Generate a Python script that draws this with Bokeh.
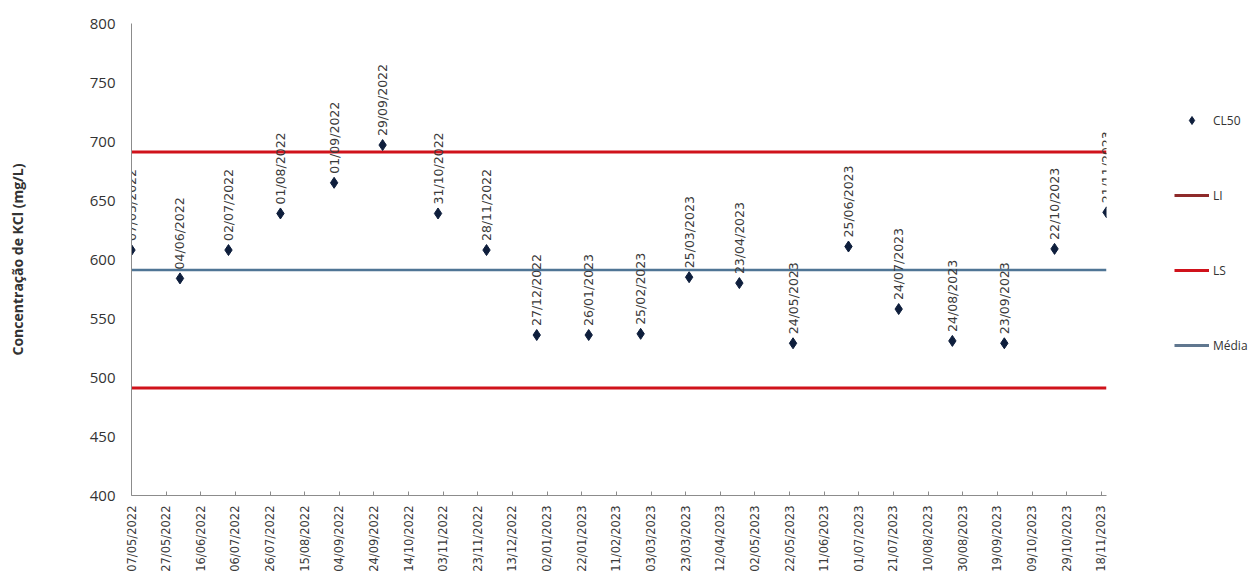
import pandas as pd
from math import pi
from bokeh.plotting import figure
from bokeh.models import (ColumnDataSource, Range1d, FixedTicker, DatetimeTickFormatter,
                          Legend, LegendItem)
from bokeh.core.properties import value
from bokeh.embed import file_html
from bokeh.resources import INLINE

# ---- data ----
sample_dates = ["07/05/2022", "04/06/2022", "02/07/2022", "01/08/2022", "01/09/2022",
                "29/09/2022", "31/10/2022", "28/11/2022", "27/12/2022", "26/01/2023",
                "25/02/2023", "25/03/2023", "23/04/2023", "24/05/2023", "25/06/2023",
                "24/07/2023", "24/08/2023", "23/09/2023", "22/10/2023", "21/11/2023"]
cl50 = [608, 584, 608, 639, 665, 697, 639, 608, 536, 536,
        537, 585, 580, 529, 611, 558, 531, 529, 609, 640]
li_value = 691
ls_value = 491
media_value = 591
tick_labels = ["07/05/2022", "27/05/2022", "16/06/2022", "06/07/2022", "26/07/2022",
               "15/08/2022", "04/09/2022", "24/09/2022", "14/10/2022", "03/11/2022",
               "23/11/2022", "13/12/2022", "02/01/2023", "22/01/2023", "11/02/2023",
               "03/03/2023", "23/03/2023", "12/04/2023", "02/05/2023", "22/05/2023",
               "11/06/2023", "01/07/2023", "21/07/2023", "10/08/2023", "30/08/2023",
               "19/09/2023", "09/10/2023", "29/10/2023", "18/11/2023"]
y_ticks = [400, 450, 500, 550, 600, 650, 700, 750, 800]

dates = pd.to_datetime(sample_dates, format="%d/%m/%Y")
ticks = pd.to_datetime(tick_labels, format="%d/%m/%Y")
ticks_ms = [t.value / 1e6 for t in ticks]

src = ColumnDataSource(dict(x=dates, y=cl50, lab=sample_dates))

p = figure(frame_width=975, frame_height=472,
           x_axis_type="datetime", output_backend="svg", toolbar_location=None,
           x_range=Range1d(dates[0], dates[-1]), y_range=Range1d(400, 800),
           min_border_left=131, min_border_top=23, min_border_right=146, min_border_bottom=80)
p.outline_line_color = None
p.xgrid.visible = False
p.ygrid.visible = False
p.background_fill_color = "white"

# limit lines
p.segment(x0=[dates[0]], x1=[dates[-1]], y0=[li_value], y1=[li_value],
          line_color="#D0121B", line_width=3)
p.segment(x0=[dates[0]], x1=[dates[-1]], y0=[ls_value], y1=[ls_value],
          line_color="#D0121B", line_width=3)
p.segment(x0=[dates[0]], x1=[dates[-1]], y0=[media_value], y1=[media_value],
          line_color="#4F7595", line_width=2.5)

# points
p.scatter("x", "y", source=src, marker="diamond", size=11, fill_color="#0E1E3C",
          line_color="#0E1E3C")
p.text("x", "y", text="lab", source=src, angle=pi / 2, text_align="left",
       text_baseline="middle", y_offset=-9, text_font=value("DejaVu Sans"),
       text_font_size="12.5px", text_color="#3A3A3A")

# axes
xa = p.xaxis[0]
xa.ticker = FixedTicker(ticks=ticks_ms)
fmt = "%d/%m/%Y"
xa.formatter = DatetimeTickFormatter(milliseconds=fmt, seconds=fmt, minsec=fmt, minutes=fmt,
                                     hourmin=fmt, hours=fmt, days=fmt, months=fmt, years=fmt)
xa.major_label_orientation = pi / 2
xa.major_label_text_font = "DejaVu Sans"
xa.major_label_text_font_size = "11.5px"
xa.major_label_text_color = "#3A3A3A"
xa.major_label_standoff = 10
xa.major_tick_in = 4
xa.major_tick_out = 0
xa.minor_tick_line_color = None
xa.axis_line_color = "#8C8C8C"
xa.major_tick_line_color = "#8C8C8C"

ya = p.yaxis[0]
ya.ticker = FixedTicker(ticks=y_ticks)
ya.major_tick_in = 0
ya.major_tick_out = 0
ya.minor_tick_line_color = None
ya.axis_line_color = "#8C8C8C"
ya.major_label_standoff = 16
ya.major_label_text_font = "Open Sans"
ya.major_label_text_font_size = "15px"
ya.major_label_text_color = "#333333"
ya.axis_label = "Concentração de KCl (mg/L)"
ya.axis_label_text_font = "Open Sans"
ya.axis_label_text_font_style = "bold"
ya.axis_label_text_font_size = "14px"
ya.axis_label_text_color = "#333333"
ya.axis_label_standoff = 60

# legend glyph carriers (NaN data, never visible in the plot)
nan_src = ColumnDataSource(dict(x=[dates[0]], y=[float("nan")]))
g_cl = p.scatter("x", "y", source=nan_src, marker="diamond", size=8,
                 fill_color="#0E1E3C", line_color="#0E1E3C")
g_li = p.line("x", "y", source=nan_src, line_color="#8E2A2A", line_width=3)
g_ls = p.line("x", "y", source=nan_src, line_color="#D0121B", line_width=3)
g_me = p.line("x", "y", source=nan_src, line_color="#60778F", line_width=3)
legend = Legend(items=[LegendItem(label="CL50", renderers=[g_cl], index=0),
                       LegendItem(label="LI", renderers=[g_li]),
                       LegendItem(label="LS", renderers=[g_ls]),
                       LegendItem(label="Média", renderers=[g_me])],
                location=(68, 140), orientation="vertical",
                glyph_width=35, glyph_height=20, label_height=20, spacing=55,
                label_standoff=4, padding=10, margin=0,
                border_line_color=None, background_fill_alpha=0,
                label_text_font="Open Sans", label_text_font_size="12px",
                label_text_color="#333333")
p.add_layout(legend, "right")

open("out.html", "w").write(file_html(p, INLINE))
